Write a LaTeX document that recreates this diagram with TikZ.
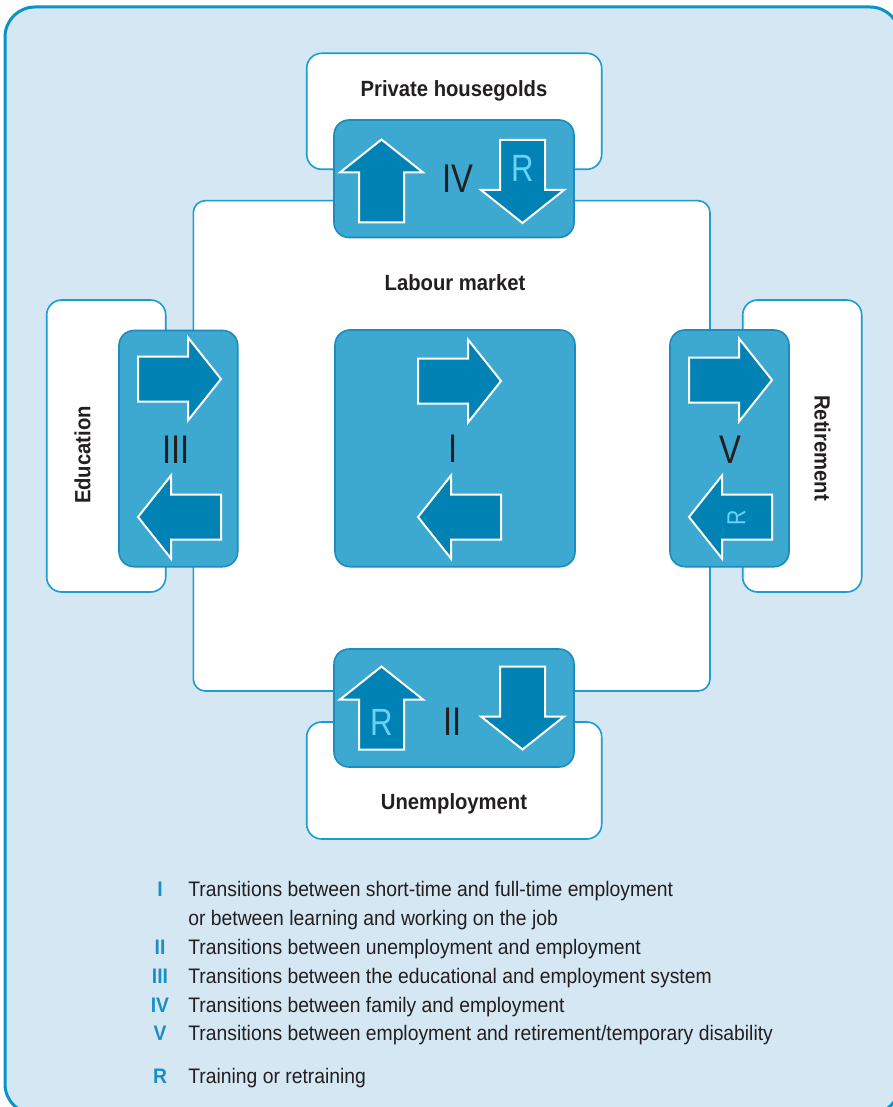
\documentclass[tikz,border=0pt]{standalone}
\usepackage{fontspec}
\setmainfont{Liberation Sans}[FakeStretch=0.92]
\newfontfamily\numfont{Liberation Sans}[FakeStretch=0.82]

\definecolor{framecol}{HTML}{0A93C6}
\definecolor{bgcol}{HTML}{D4E7F2}
\definecolor{boxline}{HTML}{1A9DD0}
\definecolor{bluefill}{HTML}{3DA9D1}
\definecolor{blueline}{HTML}{1B8CBD}
\definecolor{arrowfill}{HTML}{0083B4}
\definecolor{rcol}{HTML}{6AD0F5}
\definecolor{numcol}{HTML}{1A8FC4}
\definecolor{txtcol}{HTML}{231F20}

\tikzset{
  whitebox/.style={draw=boxline, line width=0.8pt, fill=white, rounded corners=7.5pt},
  bluebox/.style={draw=blueline, line width=0.8pt, fill=bluefill, rounded corners=7.5pt},
  blockarrow/.style={draw=white, line width=1pt, fill=arrowfill, line join=miter},
  title/.style={font=\bfseries\fontsize{11}{13}\selectfont, text=txtcol, inner sep=0pt, anchor=base},
  numeral/.style={font=\numfont\fontsize{20}{24}\selectfont, text=txtcol, inner sep=0pt, anchor=base},
  rmark/.style={font=\numfont\fontsize{19}{22}\selectfont, text=rcol, inner sep=0pt, anchor=base},
  keynum/.style={font=\bfseries\fontsize{10.5}{12}\selectfont, text=numcol, inner sep=0pt, anchor=base},
  keytext/.style={font=\fontsize{10.5}{12}\selectfont, text=txtcol, inner sep=0pt, anchor=base west}
}

\begin{document}
\begin{tikzpicture}[x=0.5pt, y=-0.5pt]
  \useasboundingbox (0,0) rectangle (893,1107);
  \clip (0,0) rectangle (893,1107);
  % the frame
  \draw[draw=framecol, line width=1.5pt, fill=bgcol, rounded corners=15pt] (5,7) rectangle (900,1114);

  % the outer fields
  \path[whitebox] (306.7,53.3) rectangle (601.7,169.3);
  \path[whitebox] (46.7,300) rectangle (165.7,592);
  \path[whitebox] (742.7,300) rectangle (861.7,592);
  \path[whitebox] (306.7,722) rectangle (601.7,839);
  % the labour market
  \path[whitebox, rounded corners=6pt] (193.3,200.7) rectangle (710,691);

  \node[title] (house) at (454,96.7) {Private housegolds};
  \node[title] (labour) at (455,290.7) {Labour market};
  \node[title] (unemp) at (454,809) {Unemployment};
  \node[title, anchor=center, rotate=90] (educ) at (82.5,455) {Education};
  \node[title, anchor=center, rotate=-90] (retire) at (822.5,448) {Retirement};

  % the transitions
  \path[bluebox] (334,120) rectangle (574,237.5);
  \path[bluebox] (119,330.5) rectangle (237.7,566.7);
  \path[bluebox] (335,330) rectangle (575,566.7);
  \path[bluebox] (670,330) rectangle (789,566.7);
  \path[bluebox] (334,649) rectangle (574,767);

  \foreach \x/\y/\a in {381.5/181/90, 522.5/181.5/-90,
                        179.5/379/0, 179.5/517/180,
                        459.5/381/0, 459.5/517/180,
                        730.5/380/0, 730.5/517/180,
                        381.5/708/90, 522.5/708/-90} {
    \draw[blockarrow, shift={(\x,\y)}, rotate=\a]
      (-41.5,-22.5) -- (8.5,-22.5) -- (8.5,-41.5) -- (41.5,0)
      -- (8.5,41.5) -- (8.5,22.5) -- (-41.5,22.5) -- cycle;
  };

  \node[numeral] (nIV) at (458,192) {IV};
  \node[numeral] (nIII) at (176,463) {III};
  \node[numeral] (nI) at (453,462) {I};
  \node[numeral] (nV) at (730,463) {V};
  \node[numeral] (nII) at (452.5,735) {II};

  \node[rmark] (rIV) at (522.5,181.7) {R};
  \node[rmark] (rII) at (381.7,735) {R};
  \node[rmark, font=\numfont\fontsize{13}{15}\selectfont, anchor=center, rotate=90] (rV) at (736.5,518) {R};

  % the key
  \node[keynum] (kI) at (160,896.5) {I};
  \node[keytext] (tI) at (188,896.5) {Transitions between short-time and full-time employment};
  \node[keytext] (tIb) at (188,925.3) {or between learning and working on the job};
  \node[keynum] (kII) at (160,954.2) {II};
  \node[keytext] (tII) at (188,954.2) {Transitions between unemployment and employment};
  \node[keynum] (kIII) at (160,983.1) {III};
  \node[keytext] (tIII) at (188,983.1) {Transitions between the educational and employment system};
  \node[keynum] (kIV) at (160,1012) {IV};
  \node[keytext] (tIV) at (188,1012) {Transitions between family and employment};
  \node[keynum] (kV) at (160,1040.9) {V};
  \node[keytext] (tV) at (188,1040.9) {Transitions between employment and retirement/temporary disability};
  \node[keynum] (kR) at (160,1083.5) {R};
  \node[keytext] (tR) at (188,1083.5) {Training or retraining};
\end{tikzpicture}
\end{document}
